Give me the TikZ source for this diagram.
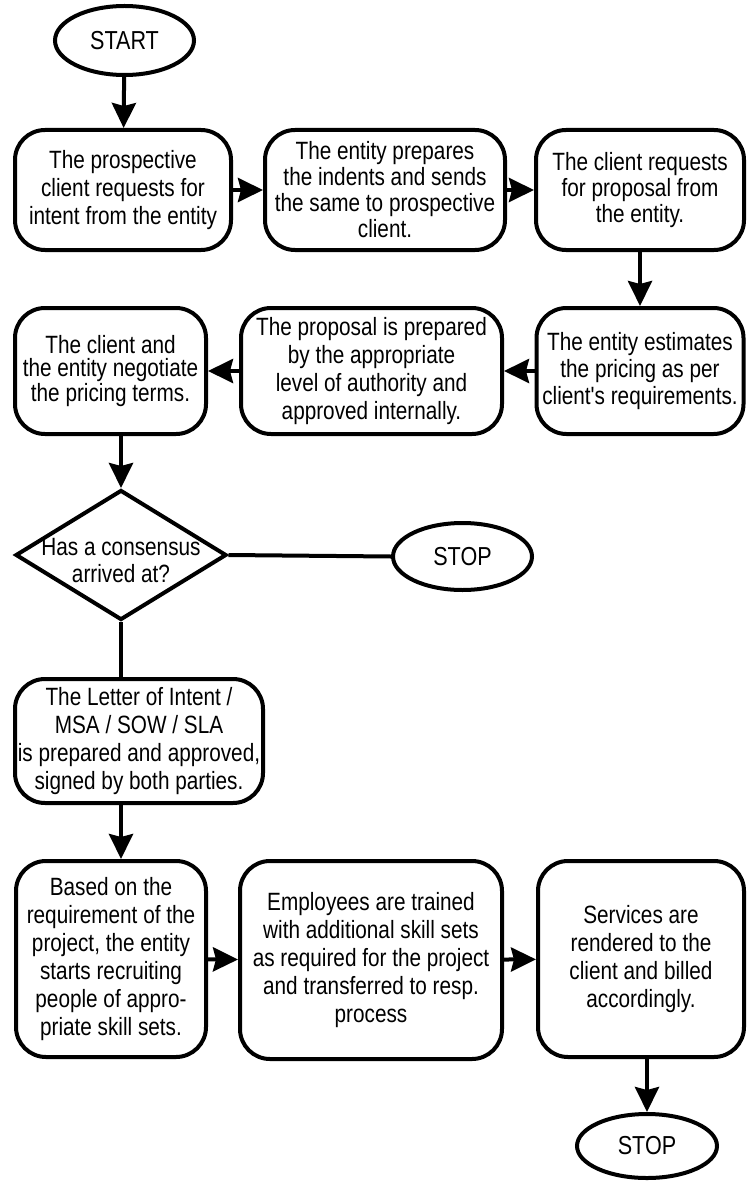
\documentclass[tikz,border=0pt]{standalone}
\usepackage{fontspec}
\newfontfamily\diafont[FakeStretch=0.83]{Liberation Sans}
\usetikzlibrary{arrows.meta,shapes.geometric}
\begin{document}
\begin{tikzpicture}[x=1pt,y=-1pt,line width=4pt,
  box/.style={draw,rounded corners=30pt,align=center,inner sep=0pt,
    font=\diafont\fontsize{25}{28}\selectfont},
  term/.style={draw,ellipse,inner sep=0pt,font=\diafont\fontsize{26}{28}\selectfont},
  txt/.style={align=center,inner sep=0pt,font=\diafont\fontsize{25}{27}\selectfont},
  arr/.style={-{Stealth[length=25pt,width=24pt,inset=3pt]}},
  conn/.style={}]
\useasboundingbox (0,0) rectangle (747,1182);
% terminals
\node[term,minimum width=139pt,minimum height=69pt] (start) at (124.5,40.5) {START};
% row 1
\node[box,minimum width=216pt,minimum height=120pt] (b1) at (123,190)
  {The prospective\\client requests for\\intent from the entity};
\node[box,minimum width=240pt,minimum height=120pt,font=\diafont\fontsize{25}{26}\selectfont] (b2) at (385,190)
  {The entity prepares\\the indents and sends\\the same to prospective\\client.};
\node[box,minimum width=208pt,minimum height=120pt,font=\diafont\fontsize{25}{26}\selectfont] (b3) at (640,190)
  {The client requests\\for proposal from\\the entity.};
% row 2
\node[box,minimum width=207pt,minimum height=126pt,font=\diafont\fontsize{25}{27}\selectfont] (b4) at (640,371)
  {The entity estimates\\the pricing as per\\client's requirements.};
\node[box,minimum width=261pt,minimum height=126pt] (b5) at (371.5,371)
  {The proposal is prepared\\by the appropriate\\level of authority and\\approved internally.};
\node[box,minimum width=191pt,minimum height=126pt,font=\diafont\fontsize{25}{23}\selectfont] (b6) at (110.5,371)
  {The client and\\the entity negotiate\\the pricing terms.};
% decision
\node[draw,diamond,minimum width=211pt,minimum height=130pt,inner sep=0pt] (dia) at (121,555) {};
\node[txt] (diatxt) at (121,561) {Has a consensus\\arrived at?};
\node[term,minimum width=139pt,minimum height=67pt] (stop1) at (462.5,556.5) {STOP};
% letter
\node[box,minimum width=248pt,minimum height=124pt] (b7) at (139,741)
  {The Letter of Intent /\\MSA / SOW / SLA\\is prepared and approved,\\signed by both parties.};
% row 3
\node[box,minimum width=190pt,minimum height=196pt] (b8) at (111,959)
  {Based on the\\requirement of the\\project, the entity\\starts recruiting\\people of appro-\\priate skill sets.};
\node[box,minimum width=262pt,minimum height=198pt] (b9) at (371,960)
  {Employees are trained\\with additional skill sets\\as required for the project\\and transferred to resp.\\process};
\node[box,minimum width=206pt,minimum height=196pt] (b10) at (641,959)
  {Services are\\rendered to the\\client and billed\\accordingly.};
\node[term,minimum width=140pt,minimum height=64pt] (stop2) at (647,1146) {STOP};
% connectors
\draw[arr] (start) -- (b1);
\draw[arr] (b1) -- (b2);
\draw[arr] (b2) -- (b3);
\draw[arr] (b3) -- (b4);
\draw[arr] (b4) -- (b5);
\draw[arr] (b5) -- (b6);
\draw[arr] (dia.north |- b6.south) -- (dia.north);
\draw[conn] (dia.east) -- (stop1.west);
\draw[conn] (dia.south) -- (dia.south |- b7.north);
\draw[arr] (dia.south |- b7.south) -- (dia.south |- b8.north);
\draw[arr] (b8) -- (b9);
\draw[arr] (b9) -- (b10);
\draw[arr] (stop2.north |- b10.south) -- (stop2.north);
\end{tikzpicture}
\end{document}
